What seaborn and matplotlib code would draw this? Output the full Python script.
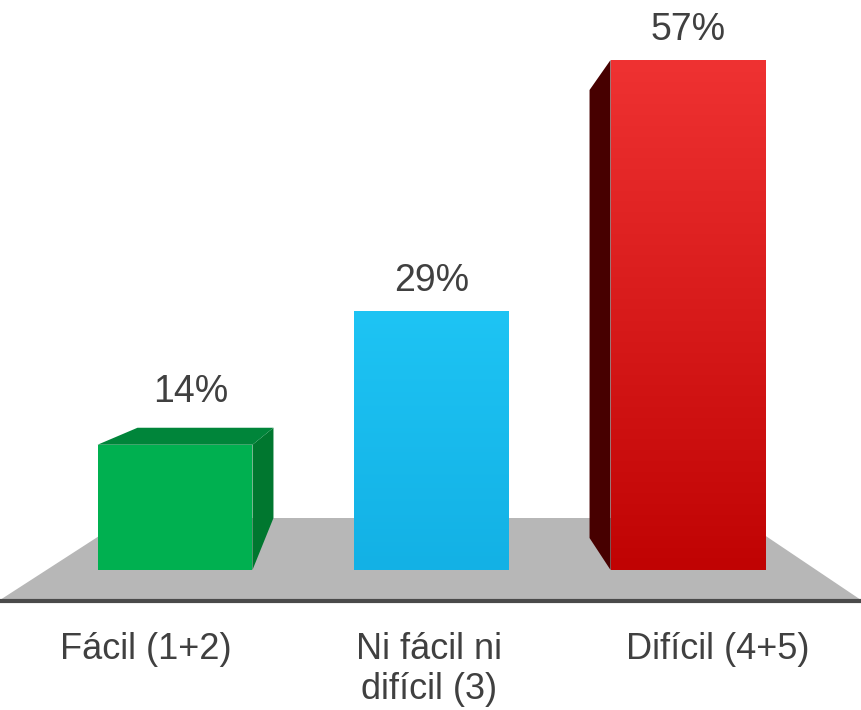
import numpy as np
import pandas as pd
import matplotlib
matplotlib.use("Agg")
import matplotlib.pyplot as plt
from matplotlib.patches import Polygon
from matplotlib.colors import LinearSegmentedColormap
import seaborn as sns

# dati
categorie = ["Fácil (1+2)", "Ni fácil ni\ndifícil (3)", "Difícil (4+5)"]
valori = [14, 29, 57]
etichette = ["14%", "29%", "57%"]
colori = ["#00B050", "#17B9EC", "#D91818"]

df = pd.DataFrame({"cat": categorie, "val": valori})

# geometria in pixel (figura 861x710)
W, H = 861, 710
X0, STEP = 175.0, 256.5     # centro prima barra, passo
BASE, PPP = 570.0, 8.947    # pixel della base, pixel per punto percentuale


def px(x, y):
    return ((x - X0) / STEP, (BASE - y) / PPP)


sns.set_theme(style="white")
plt.rcParams["font.family"] = ["Liberation Sans", "DejaVu Sans"]

fig = plt.figure(figsize=(W / 100, H / 100), dpi=100)
ax = fig.add_axes([0, 0, 1, 1])

sns.barplot(data=df, x="cat", y="val", hue="cat", palette=colori,
            width=0.604, saturation=1, legend=False, ax=ax, zorder=2,
            linewidth=0)
bars = list(ax.patches[:3])

# pavimento grigio
ax.add_patch(Polygon([px(127, 518), px(739, 518), px(861, 600), px(0, 600)],
                     closed=True, facecolor="#B7B7B7", edgecolor="none",
                     zorder=1))
ax.plot([px(0, 601)[0], px(861, 601)[0]], [px(0, 601)[1]] * 2,
        color="#4A4A4A", lw=3, solid_capstyle="butt", zorder=1.5)

gradienti = [None, ("#1EC4F4", "#13B1E5"), ("#EF3232", "#C00303")]
back_y = (BASE - 518) / PPP
dx_side = 21 / STEP
dh_top = 17 / PPP

for i, b in enumerate(bars):
    x, w, h = b.get_x(), b.get_width(), b.get_height()
    if gradienti[i] is not None:
        cmap = LinearSegmentedColormap.from_list("g", [gradienti[i][1], gradienti[i][0]])
        grad = np.linspace(0, 1, 256).reshape(-1, 1)
        im = ax.imshow(grad, extent=(x, x + w, 0, h), origin="lower", cmap=cmap,
                       aspect="auto", zorder=2.1)
        im.set_clip_path(b)
    if i == 0:
        # lato destro e faccia superiore
        xr = x + w
        ax.add_patch(Polygon([(xr, h), (xr + dx_side, h + dh_top),
                              (xr + dx_side, back_y), (xr, 0)],
                             facecolor="#00772F", edgecolor="none", zorder=2.2))
        ax.add_patch(Polygon([(x, h), (x + 40 / STEP, h + dh_top),
                              (xr + dx_side, h + dh_top), (xr, h)],
                             facecolor="#00853A", edgecolor="none", zorder=2.2))
    if i == 2:
        # lato sinistro scuro
        ax.add_patch(Polygon([(x, h), (x - dx_side, h - 30 / PPP),
                              (x - dx_side, (BASE - 538) / PPP), (x, 0)],
                             facecolor="#470000", edgecolor="none", zorder=2.2))

# etichette percentuali
alzo = [4.8, 2.2, 2.2]
sposta_pct = [0.06, 0.0, 0.0]
for i, (v, t) in enumerate(zip(valori, etichette)):
    ax.text(i + sposta_pct[i], v + alzo[i], t, ha="center", va="baseline",
            fontsize=27, color="#404040")

# etichette categorie (una riga alla volta)
sposta_cat = [-0.113, -0.01, 0.117]
for i, c in enumerate(categorie):
    for k, riga in enumerate(c.split("\n")):
        y_riga = (BASE - 659 - 40 * k) / PPP
        ax.text(i + sposta_cat[i], y_riga, riga, ha="center", va="baseline",
                fontsize=26, color="#404040")

ax.set_xlim(px(0, 0)[0], px(W, 0)[0])
ax.set_ylim(px(0, H)[1], px(0, 0)[1])
ax.set_axis_off()

fig.savefig("out.png", dpi=100)
plt.close(fig)
